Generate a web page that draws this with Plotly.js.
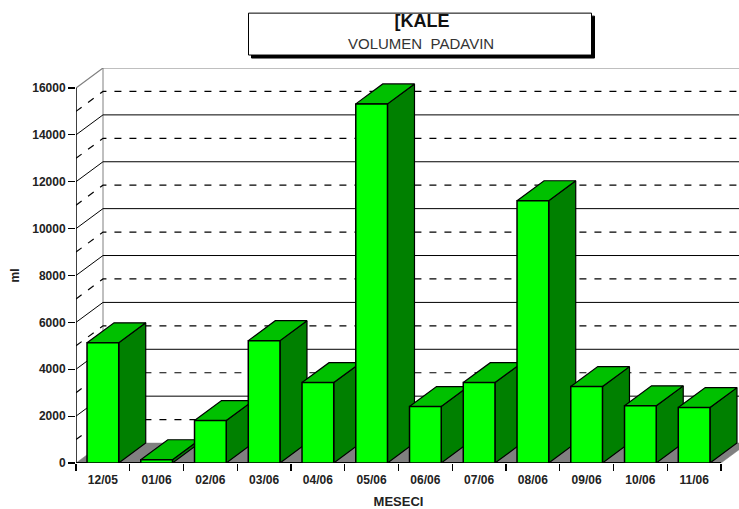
<!DOCTYPE html>
<html>
<head>
<meta charset="utf-8">
<script src="https://cdn.plot.ly/plotly-3.0.1.min.js"></script>
<style>html,body{margin:0;padding:0;background:#fff;overflow:hidden}</style>
</head>
<body>
<div id="chart" style="width:739px;height:509px"></div>
<script>
const months = ['12/05','01/06','02/06','03/06','04/06','05/06','06/06','07/06','08/06','09/06','10/06','11/06'];
const rainfall = [5130,140,1810,5220,3430,15320,2410,3430,11190,3260,2440,2365];
const majorTicks = [0,2000,4000,6000,8000,10000,12000,14000,16000];
const minorTicks = [1000,3000,5000,7000,9000,11000,13000,15000];
const chartTitle = '[KALE';
const chartSubtitle = 'VOLUMEN\u00a0\u00a0PADAVIN';
const xTitle = 'MESECI';
const yTitle = 'ml';

// Layout in pixels: plot spans the wall too, the labelled axes span only the front plane.
const L = 76, R = 739, T = 67.5, B = 463.5, FRONT_R = 721;
const PW = R - L, PH = B - T, FW = FRONT_R - L, FH = 376;
const yMax = 16000;
const xL = -0.5, xR = months.length - 0.5;
const unitX = (xR - xL) / FW, unitY = yMax / FH;
const depthX = 27 * unitX, depthY = 20 * unitY, barWidth = 0.59;
const FONT = '"Liberation Sans", Arial, sans-serif';
const px = v => (v - L) / PW, py = v => 1 - (v - T) / PH;
const traces = [];

function lineTrace(xs, ys, color, width, dash) {
  return {type:'scatter', mode:'lines', x:xs, y:ys, xaxis:'x2', yaxis:'y2', hoverinfo:'skip',
          showlegend:false, line:{color:color, width:width, dash:dash||'solid', simplify:false}};
}
function polyTrace(xs, ys, fill, lineColor, width) {
  return {type:'scatter', mode:'lines', x:xs, y:ys, xaxis:'x2', yaxis:'y2', fill:'toself', fillcolor:fill,
          hoverinfo:'skip', showlegend:false, line:{color:lineColor, width:width, simplify:false}};
}
function wallLines(vals) {
  const xs = [], ys = [];
  vals.forEach(v => { xs.push(xL, xL + depthX, xR + depthX, null); ys.push(v, v + depthY, v + depthY, null); });
  return [xs, ys];
}

// dummy trace so the labelled axes are drawn
traces.push({type:'scatter', mode:'none', x:[0], y:[0], hoverinfo:'skip', showlegend:false});

// floor
traces.push(polyTrace([xL, xR, xR + depthX, xL + depthX, xL], [0, 0, depthY, depthY, 0], '#808080', '#808080', 0.5));
// back wall edge + wall grid
traces.push(lineTrace([xL + depthX, xL + depthX], [depthY, yMax + depthY], '#808080', 1));
const minor = wallLines(minorTicks);
traces.push(lineTrace(minor[0], minor[1], '#000000', 1.2, '7px,8px'));
const major = wallLines(majorTicks.filter(v => v > 0 && v < yMax));
traces.push(lineTrace(major[0], major[1], '#000000', 1));
const topEdge = wallLines([yMax]);
traces.push(lineTrace(topEdge[0], topEdge[1], '#808080', 1.2));
// axis lines
traces.push(lineTrace([xL, xL], [0, yMax], '#000000', 1.5));
traces.push(lineTrace([xL, xR], [0, 0], '#000000', 2));

// bar depth faces, left to right
rainfall.forEach((v, i) => {
  const r = i + barWidth / 2, l = i - barWidth / 2;
  traces.push(polyTrace([r, r + depthX, r + depthX, r, r], [0, depthY, v + depthY, v, 0], '#008000', '#000000', 1.2));
  traces.push(polyTrace([l, l + depthX, r + depthX, r, l], [v, v + depthY, v + depthY, v, v], '#00c000', '#000000', 1.2));
});

// bar front faces
traces.push({type:'bar', x:months.map((m, i) => i), y:rainfall, xaxis:'x3', yaxis:'y3', width:barWidth,
  marker:{color:'#00ff00', line:{color:'#000000', width:1.5}}, showlegend:false, hovertemplate:'%{y}<extra></extra>'});

const tickFont = {family:FONT, size:12, color:'#222222', weight:700};
const frontX = [0, FW / PW], frontY = [0, FH / PH];
const layout = {
  width:739, height:509, autosize:false, showlegend:false,
  paper_bgcolor:'#ffffff', plot_bgcolor:'rgba(0,0,0,0)',
  margin:{l:L, r:739 - R, t:T, b:509 - B, pad:0},
  title:{text:'<b>' + chartTitle + '</b>', font:{family:FONT, size:18, color:'#111111'},
         x:px(422), xref:'paper', xanchor:'center', y:1-21/509, yref:'container', yanchor:'middle'},
  xaxis:{domain:frontX, anchor:'y', range:[xL, xR], fixedrange:true, showgrid:false, zeroline:false, showline:false,
         tickmode:'array', tickvals:months.map((m, i) => i), ticktext:months, ticks:'', ticklabelstandoff:8,
         tickfont:tickFont, automargin:false,
         title:{text:'<b>' + xTitle + '</b>', font:{family:FONT, size:13, color:'#222222'}, standoff:10}},
  yaxis:{domain:frontY, anchor:'x', range:[0, yMax], fixedrange:true, showgrid:false, zeroline:false, showline:false,
         tickmode:'array', tickvals:majorTicks, ticktext:majorTicks.map(String),
         ticks:'outside', ticklen:7, tickwidth:1.2, tickcolor:'#000000', tickfont:tickFont, automargin:false,
         title:{text:'<b>' + yTitle + '</b>', font:{family:FONT, size:12, color:'#222222'}, standoff:10}},
  xaxis2:{domain:[0, 1], anchor:'y2', range:[xL, xL + PW * unitX], fixedrange:true, visible:false},
  yaxis2:{domain:[0, 1], anchor:'x2', range:[0, PH * unitY], fixedrange:true, visible:false},
  xaxis3:{domain:frontX, anchor:'y3', range:[xL, xR], fixedrange:true, showgrid:false, zeroline:false,
          showline:false, showticklabels:false, tickmode:'array',
          tickvals:months.concat(['']).map((m, i) => i - 0.5), ticks:'outside', ticklen:7, tickwidth:1.2, tickcolor:'#000000'},
  yaxis3:{domain:frontY, anchor:'x3', range:[0, yMax], fixedrange:true, showgrid:false, zeroline:false,
          showline:false, showticklabels:false, ticks:''},
  bargap:0,
  shapes:[
    {type:'rect', xref:'paper', yref:'paper', layer:'above',
     x0:px(251.5), x1:px(594.5), y0:py(57.5), y1:py(15.5),
     fillcolor:'#000000', line:{color:'#000000', width:1}},
    {type:'rect', xref:'paper', yref:'paper', layer:'above',
     x0:px(248.5), x1:px(591.5), y0:py(54.5), y1:py(12.5),
     fillcolor:'#ffffff', line:{color:'#000000', width:1}}
  ],
  annotations:[
    {text:chartSubtitle, xref:'paper', yref:'paper', x:px(421), y:py(43),
     xanchor:'center', yanchor:'middle', showarrow:false, font:{family:FONT, size:15, color:'#333333'}}
  ]
};
Plotly.newPlot('chart', traces, layout, {staticPlot:true, displayModeBar:false});
</script>
</body>
</html>
